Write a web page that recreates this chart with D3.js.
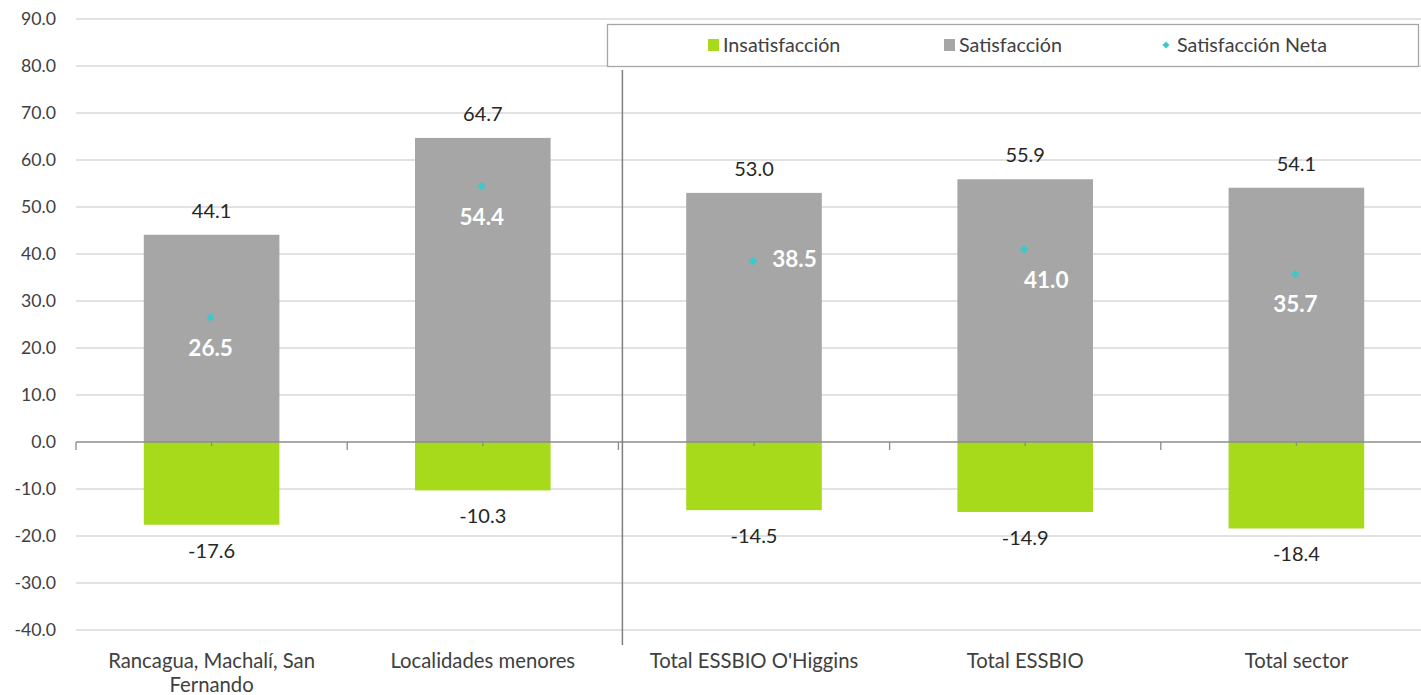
<!DOCTYPE html>
<html><head><meta charset="utf-8">
<script src="https://cdn.jsdelivr.net/npm/d3@7"></script>
<style>body{margin:0;background:#fff;} text{font-family:Lato,"Open Sans",sans-serif;}</style>
</head><body>
<svg id="chart" width="1421" height="695"></svg>
<script>
const categories = ["Rancagua, Machalí, San Fernando", "Localidades menores", "Total ESSBIO O'Higgins", "Total ESSBIO", "Total sector"];
const categoryLines = [["Rancagua, Machalí, San", "Fernando"], ["Localidades menores"], ["Total ESSBIO O'Higgins"], ["Total ESSBIO"], ["Total sector"]];
const insatisfaccion = [-17.6, -10.3, -14.5, -14.9, -18.4];
const satisfaccion = [44.1, 64.7, 53.0, 55.9, 54.1];
const satisfaccionNeta = [26.5, 54.4, 38.5, 41.0, 35.7];
const yTicks = [90, 80, 70, 60, 50, 40, 30, 20, 10, 0, -10, -20, -30, -40];
const seriesNames = ["Insatisfacción", "Satisfacción", "Satisfacción Neta"];

const colGreen = "#a6da1b", colGray = "#a6a6a6", colCyan = "#3ec8cc";
const fmt = v => d3.format(".1f")(v).replace("\u2212", "-");
const svg = d3.select("#chart");
const x = d3.scaleBand().domain(categories).range([76, 1432]).padding(0);
const y = d3.scaleLinear().domain([-40, 90]).range([630, 19]);
const bw = x.bandwidth() * 0.5;
const cx = c => x(c) + x.bandwidth() / 2;

// gridlines
svg.append("g").selectAll("line").data(yTicks.filter(t => t !== 0)).join("line")
  .attr("x1", 76).attr("x2", 1421).attr("y1", d => y(d)).attr("y2", d => y(d))
  .attr("stroke", "#d9d9d9").attr("stroke-width", 1.3);

// y labels
svg.append("g").selectAll("text").data(yTicks).join("text")
  .attr("x", 56).attr("y", d => y(d)).attr("dy", "0.35em").attr("text-anchor", "end")
  .attr("font-size", 17.7).attr("fill", "#404040").text(d => fmt(d));

// bars
svg.append("g").selectAll("rect").data(categories).join("rect")
  .attr("x", c => cx(c) - bw / 2).attr("width", bw)
  .attr("y", (c, i) => y(satisfaccion[i])).attr("height", (c, i) => y(0) - y(satisfaccion[i]))
  .attr("fill", colGray);
svg.append("g").selectAll("rect").data(categories).join("rect")
  .attr("x", c => cx(c) - bw / 2).attr("width", bw)
  .attr("y", y(0)).attr("height", (c, i) => y(insatisfaccion[i]) - y(0))
  .attr("fill", colGreen);

// zero axis
svg.append("line").attr("x1", 76).attr("x2", 1421).attr("y1", y(0)).attr("y2", y(0))
  .attr("stroke", "#8c8c8c").attr("stroke-width", 1.3);
const bounds = categories.map(c => x(c)).concat([x(categories[4]) + x.bandwidth()]).filter(v => v <= 1421);
svg.append("g").selectAll("line").data(bounds).join("line")
  .attr("x1", d => d).attr("x2", d => d).attr("y1", y(0)).attr("y2", y(0) + 8)
  .attr("stroke", "#8c8c8c").attr("stroke-width", 1.3);
svg.append("g").selectAll("line").data(categories).join("line")
  .attr("x1", c => cx(c)).attr("x2", c => cx(c)).attr("y1", y(0)).attr("y2", y(0) + 4)
  .attr("stroke", "#8c8c8c").attr("stroke-width", 1.3);

// separator line
const sepX = x(categories[2]) + 4;
svg.append("line").attr("x1", sepX).attr("x2", sepX).attr("y1", 70).attr("y2", 645)
  .attr("stroke", "#7f7f7f").attr("stroke-width", 1.5);

// labels
svg.append("g").selectAll("text").data(categories).join("text")
  .attr("x", c => cx(c)).attr("y", (c, i) => y(satisfaccion[i]) - 24).attr("dy", "0.35em")
  .attr("text-anchor", "middle").attr("font-size", 20).attr("fill", "#262626")
  .text((c, i) => fmt(satisfaccion[i]));
svg.append("g").selectAll("text").data(categories).join("text")
  .attr("x", c => cx(c)).attr("y", (c, i) => y(insatisfaccion[i]) + 26).attr("dy", "0.35em")
  .attr("text-anchor", "middle").attr("font-size", 20).attr("fill", "#262626")
  .text((c, i) => fmt(insatisfaccion[i]));

// net diamonds
const diamond = d3.symbol().type(d3.symbolDiamond2).size(50);
svg.append("g").selectAll("path").data(categories).join("path")
  .attr("d", diamond)
  .attr("transform", (c, i) => `translate(${cx(c) - 1},${y(satisfaccionNeta[i])})`)
  .attr("fill", colCyan);
const netOffsets = [[0, 31], [0, 31], [41.5, -2], [22, 31], [0, 30]];
svg.append("g").selectAll("text").data(categories).join("text")
  .attr("x", (c, i) => cx(c) - 1 + netOffsets[i][0]).attr("y", (c, i) => y(satisfaccionNeta[i]) + netOffsets[i][1])
  .attr("dy", "0.35em").attr("text-anchor", "middle").attr("font-size", 22.5).attr("font-weight", "bold")
  .attr("fill", "#ffffff").text((c, i) => fmt(satisfaccionNeta[i]));

// x labels
const xl = svg.append("g").selectAll("text").data(categories).join("text")
  .attr("x", c => cx(c)).attr("y", 668).attr("text-anchor", "middle")
  .attr("font-size", 20.3).attr("fill", "#404040");
xl.each(function(c, i) {
  d3.select(this).selectAll("tspan").data(categoryLines[i]).join("tspan")
    .attr("x", cx(c)).attr("dy", (d, j) => j === 0 ? 0 : 24).text(d => d);
});

// legend
const lg = svg.append("g");
lg.append("rect").attr("x", 607.5).attr("y", 24.5).attr("width", 811).attr("height", 42)
  .attr("fill", "#fff").attr("stroke", "#a6a6a6").attr("stroke-width", 1.3);
const legendX = [708, 944, 1166];
const legendCols = [colGreen, colGray, colCyan];
seriesNames.forEach((n, i) => {
  if (i < 2) {
    lg.append("rect").attr("x", legendX[i]).attr("y", 39).attr("width", 11).attr("height", 12).attr("fill", legendCols[i]);
  } else {
    lg.append("path").attr("d", d3.symbol().type(d3.symbolDiamond2).size(32)).attr("transform", `translate(${legendX[i]},45)`).attr("fill", colCyan);
  }
  lg.append("text").attr("x", legendX[i] + (i < 2 ? 15 : 11)).attr("y", 45).attr("dy", "0.35em")
    .attr("font-size", 19.7).attr("fill", "#404040").text(n);
});
</script>
</body></html>
